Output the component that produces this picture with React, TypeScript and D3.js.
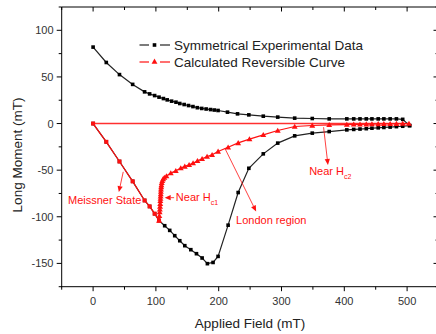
import React from 'react';
import * as d3 from 'd3';

// ---- data ----
const lowerX = [0, 21, 42, 63, 82, 90, 98, 105, 114, 122, 130, 138, 146, 155.6, 164.6, 173.6, 182, 191, 199, 215, 231, 248, 271, 294, 321, 349, 376, 404, 415, 425, 435, 444, 454, 463, 473, 483, 493, 504];
const lowerY = [0, -19.6, -40.7, -62, -82.5, -88.9, -96.7, -104, -109.6, -114.6, -120.3, -125.7, -131, -135.3, -139.6, -144.2, -150.3, -149, -142.5, -109, -74, -48, -32.5, -21, -13.2, -10.3, -8.6, -6.8, -6.3, -5.9, -5.5, -5, -4.6, -4.2, -3.8, -3.3, -2.9, -2.2];
const upperX = [504, 493, 483, 473, 463, 454, 444, 435, 425, 415, 404, 376, 349, 321, 294, 271, 248, 230, 214, 199, 193, 187, 180, 173, 166, 159, 152, 145, 138, 132, 125, 118, 112, 105, 98, 90, 82, 63, 42, 21, 0];
const upperY = [-2.2, 4.5, 5, 5, 5, 5, 5, 5, 5, 5, 5, 5, 5.4, 5.8, 6.9, 7.9, 9.3, 10.4, 12.2, 14, 14.5, 15, 15.6, 16.2, 17, 18.2, 19.3, 20.4, 21.5, 22.9, 24, 25.4, 26.8, 28.3, 30, 31.8, 34, 42, 52.5, 65.5, 82];
const meissnerX = [0, 21, 42, 63, 82, 90, 98, 105];
const meissnerY = [0, -19.6, -40.7, -62, -82.5, -88.9, -96.7, -104];
const calcX = [105, 105.5, 106, 106.3, 106.6, 106.9, 107.1, 107.3, 107.5, 107.7, 107.9, 108.1, 108.4, 108.8, 109.3, 110.2, 111.5, 113.5, 116.8, 123.7, 131.7, 139.6, 146, 152.9, 159.2, 166.2, 173.6, 181.5, 189.5, 199, 215, 231, 249, 271, 294, 321, 349, 376, 404, 415, 425, 435, 444, 454, 463, 473, 483, 493, 503];
const calcY = [-104, -99, -95, -92, -89, -86, -83, -80.5, -78, -75.5, -73, -70.5, -68, -66, -63.5, -61.5, -59.5, -58, -56.3, -53.2, -50.7, -47.8, -46, -44.3, -42.5, -40, -37.8, -35.4, -33.5, -30, -25.5, -20.8, -16.7, -12.1, -7.5, -3.2, -2.1, -1.4, -1.1, -0.9, -0.8, -0.7, -0.6, -0.5, -0.4, -0.3, -0.2, -0.1, 0];
const zeroLineX = [0, 503];
const zeroLineY = [0, 0];

const xTickLabels = [0, 100, 200, 300, 400, 500];
const yTickLabels = [-150, -100, -50, 0, 50, 100];
const legendLabels = ['Symmetrical Experimental Data', 'Calculated Reversible Curve'];

// annotations: arrows and label anchors in data units
const annotations = [
  { text: 'Meissner State', sub: '', tx: -40, ty: -81.7, from: [48, -51.8], to: [41, -73.5] },
  { text: 'Near H', sub: 'c1', tx: 131.8, ty: -79.3, from: [129, -79.5], to: [114, -79.5] },
  { text: 'Near H', sub: 'c2', tx: 344, ty: -51.4, from: [367, -3.9], to: [374, -44.5] },
  { text: 'London region', sub: '', tx: 227.7, ty: -103.2, from: [209.7, -26.4], to: [259.6, -94.3] },
];

const FONT = '"Liberation Sans", Arial, Helvetica, sans-serif';
const RED = '#ff1010';

const x = d3.scaleLinear().domain([-50, 550]).range([61.7, 438.5]);
const y = d3.scaleLinear().domain([-175, 125]).range([286.7, 7]);

const pts = (xs: number[], ys: number[]) => xs.map((v, i) => [v, ys[i]] as [number, number]);
const line = d3.line<[number, number]>().x(d => x(d[0])).y(d => y(d[1]));
const sq = d3.symbol().type(d3.symbolSquare).size(13)();
const sqR = d3.symbol().type(d3.symbolSquare).size(16)();
const tri = d3.symbol().type(d3.symbolTriangle).size(15)();

function Arrow({ x1, y1, x2, y2 }: { x1: number; y1: number; x2: number; y2: number }) {
  const ang = Math.atan2(y2 - y1, x2 - x1);
  const L = 6, Wd = 2.6;
  const bx = x2 - L * Math.cos(ang), by = y2 - L * Math.sin(ang);
  const px = -Math.sin(ang) * Wd, py = Math.cos(ang) * Wd;
  return (
    <g>
      <line x1={x1} y1={y1} x2={bx} y2={by} stroke={RED} strokeWidth={0.8} />
      <path d={`M${x2},${y2}L${bx + px},${by + py}L${bx - px},${by - py}Z`} fill={RED} />
    </g>
  );
}

export default function App() {
  const xMinor = d3.range(-50, 551, 50);
  const yMinor = d3.range(-175, 126, 25);
  const L = x.range()[0], R = x.range()[1], T = y.range()[1], B = y.range()[0];
  const lower = pts(lowerX, lowerY);
  const upper = pts(upperX, upperY);
  const meis = pts(meissnerX, meissnerY);
  const calc = pts(calcX, calcY);
  const zero = pts(zeroLineX, zeroLineY);
  return (
    <svg width={436} height={334} style={{ position: 'absolute', left: 0, top: 0, background: '#fff' }} fontFamily={FONT}>
      <rect width={436} height={334} fill="#fff" />
      {/* frame */}
      <g stroke="#000" strokeWidth={1} fill="none">
        <line x1={L} y1={T} x2={L} y2={B + 0.5} />
        <line x1={L - 0.5} y1={B} x2={R} y2={B} />
        <line x1={L} y1={T} x2={R} y2={T} />
        <line x1={R} y1={T} x2={R} y2={B} />
        {xMinor.map(v => {
          const major = xTickLabels.includes(v);
          const len = major ? 4.5 : 3;
          return (
            <g key={'xt' + v}>
              <line x1={x(v)} x2={x(v)} y1={B} y2={B + len} />
              <line x1={x(v)} x2={x(v)} y1={T} y2={T + len} />
            </g>
          );
        })}
        {yMinor.map(v => {
          const major = yTickLabels.includes(v);
          const len = major ? 5 : 3;
          return (
            <g key={'yt' + v}>
              <line x1={L - len} x2={L} y1={y(v)} y2={y(v)} />
              <line x1={R - len} x2={R} y1={y(v)} y2={y(v)} />
            </g>
          );
        })}
      </g>
      {/* tick labels */}
      <g fontSize={11} fill="#333">
        {xTickLabels.map(v => (
          <text key={'xl' + v} x={x(v)} y={304.5} textAnchor="middle">{v}</text>
        ))}
        {yTickLabels.map(v => (
          <text key={'yl' + v} x={53.5} y={y(v) + 4} textAnchor="end">{v}</text>
        ))}
      </g>
      {/* axis titles */}
      <text x={250} y={328} fontSize={13.5} textAnchor="middle" fill="#222">Applied Field (mT)</text>
      <text transform={`translate(21.5,155) rotate(-90)`} fontSize={13.5} textAnchor="middle" fill="#222">Long Moment (mT)</text>

      {/* zero reference line */}
      <path d={line(zero) || ''} stroke="#ff3030" strokeWidth={1.5} fill="none" />
      {/* experimental data */}
      <path d={line(lower) || ''} stroke="#222" strokeWidth={1.2} fill="none" />
      <path d={line(upper) || ''} stroke="#222" strokeWidth={1.2} fill="none" />
      {lower.concat(upper).map((p, i) => (
        <path key={'b' + i} d={sq} transform={`translate(${x(p[0])},${y(p[1])})`} fill="#000" />
      ))}
      {/* calculated curve */}
      <path d={line(meis) || ''} stroke={RED} strokeWidth={1.2} fill="none" />
      {meis.map((p, i) => (
        <path key={'m' + i} d={sqR} transform={`translate(${x(p[0])},${y(p[1])})`} fill={RED} />
      ))}
      <path d={line(calc) || ''} stroke={RED} strokeWidth={1.2} fill="none" />
      {calc.map((p, i) => (
        <path key={'c' + i} d={tri} transform={`translate(${x(p[0])},${y(p[1]) + 0.5})`} fill={RED} />
      ))}

      {/* annotations */}
      {annotations.map((a, i) => (
        <g key={'a' + i}>
          <Arrow x1={x(a.from[0])} y1={y(a.from[1])} x2={x(a.to[0])} y2={y(a.to[1])} />
          <text x={x(a.tx)} y={y(a.ty) + 4} fontSize={11} fill={RED}>
            {a.text}
            {a.sub ? <tspan fontSize={7} dy={4}>{a.sub}</tspan> : null}
          </text>
        </g>
      ))}

      {/* legend */}
      {legendLabels.map((lab, i) => {
        const ly = 45 + i * 17;
        const col = i === 0 ? '#222' : RED;
        return (
          <g key={'lg' + i}>
            <line x1={139.5} x2={149} y1={ly} y2={ly} stroke={col} strokeWidth={1.2} />
            <line x1={160} x2={170} y1={ly} y2={ly} stroke={col} strokeWidth={1.2} />
            <path d={i === 0 ? sq : tri} transform={`translate(154.5,${ly})`} fill={i === 0 ? '#000' : RED} />
            <text x={174} y={ly + 4.8} fontSize={13.5} fill="#222">{lab}</text>
          </g>
        );
      })}
    </svg>
  );
}
